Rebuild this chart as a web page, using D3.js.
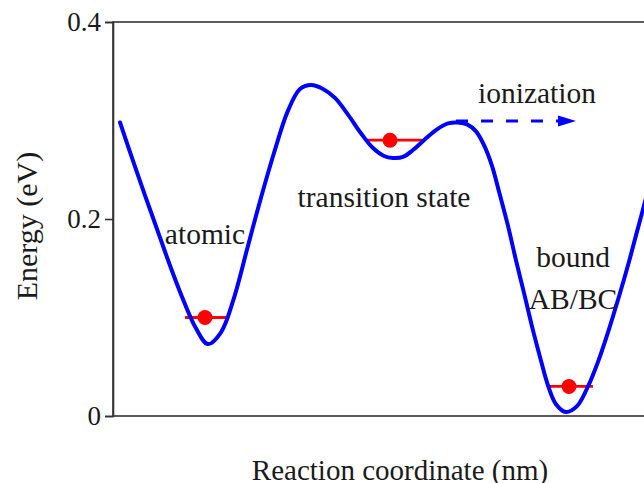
<!DOCTYPE html>
<html>
<head>
<meta charset="utf-8">
<script src="https://cdn.jsdelivr.net/npm/d3@7"></script>
<style>
  html, body { margin: 0; padding: 0; background: #fff; }
  svg { display: block; }
  text { font-family: "Liberation Serif", "DejaVu Serif", serif; fill: #1a1a1a; }
</style>
</head>
<body>
<svg id="chart" width="644" height="483"></svg>
<script>
// Potential energy profile along the reaction coordinate
const coord  = [0.07, 0.19, 0.32, 0.45, 0.58, 0.71, 0.83, 0.95, 1.08, 1.21, 1.34, 1.47, 1.61, 1.75, 1.87, 1.98,
                2.10, 2.22, 2.35, 2.48, 2.60, 2.71, 2.80, 2.90, 3.00, 3.12, 3.24, 3.35, 3.44, 3.54, 3.63, 3.71,
                3.79, 3.87, 3.95, 4.03, 4.11, 4.19, 4.27, 4.35, 4.43, 4.53, 4.64, 4.75, 4.85, 4.95, 5.05, 5.15,
                5.25, 5.35, 5.45];
const energy = [0.298, 0.262, 0.224, 0.187, 0.150, 0.116, 0.089, 0.073, 0.085, 0.120, 0.169, 0.218, 0.267, 0.310, 0.332, 0.336,
                0.332, 0.323, 0.306, 0.287, 0.272, 0.264, 0.262, 0.263, 0.270, 0.281, 0.291, 0.297, 0.298, 0.296, 0.289, 0.275,
                0.254, 0.224, 0.193, 0.158, 0.125, 0.091, 0.060, 0.031, 0.012, 0.004, 0.010, 0.030, 0.055, 0.085, 0.118, 0.153,
                0.191, 0.229, 0.270];

// Occupied levels: extent and marker position
const levelStart  = [0.72, 2.53, 4.34];
const levelEnd    = [1.16, 3.09, 4.80];
const levelCoord  = [0.92, 2.77, 4.56];
const levelEnergy = [0.10, 0.28, 0.03];

// Ionization arrow
const arrowFrom = 3.43, arrowTo = 4.63, arrowEnergy = 0.2995;

const yTicks = [0, 0.2, 0.4];
const yTickLabels = ["0", "0.2", "0.4"];

const regionLabels = [
  { text: "atomic",           x: 0.92, e: 0.175 },
  { text: "transition state", x: 2.71, e: 0.212 },
  { text: "ionization",       x: 4.24, e: 0.318 },
  { text: "bound",            x: 4.60, e: 0.151 },
  { text: "AB/BC",            x: 4.60, e: 0.109 }
];

const svg = d3.select("#chart");
const x = d3.scaleLinear().domain([0, 5.5]).range([113, 663]);
const y = d3.scaleLinear().domain([0, 0.4]).range([416, 22]);

// Frame
svg.append("rect")
  .attr("x", x(0)).attr("y", y(0.4))
  .attr("width", x(5.5) - x(0)).attr("height", y(0) - y(0.4))
  .attr("fill", "none").attr("stroke", "#333").attr("stroke-width", 1.6);

// Y axis
const yAxis = svg.append("g")
  .attr("transform", `translate(${x(0)},0)`)
  .call(d3.axisLeft(y).tickValues(yTicks).tickFormat((d, i) => yTickLabels[i]).tickSize(8).tickPadding(4));
yAxis.select(".domain").attr("stroke", "#333").attr("stroke-width", 1.6);
yAxis.selectAll(".tick line").attr("stroke", "#333").attr("stroke-width", 1.6);
yAxis.selectAll(".tick text")
  .attr("font-family", "Liberation Serif, serif")
  .attr("font-size", 27).attr("fill", "#1a1a1a");

// Axis titles
svg.append("text")
  .attr("transform", `translate(37,${(y(0) + y(0.4)) / 2 + 7}) rotate(-90)`)
  .attr("text-anchor", "middle").attr("font-size", 30)
  .text("Energy (eV)");
svg.append("text")
  .attr("x", 400).attr("y", 480)
  .attr("text-anchor", "middle").attr("font-size", 29)
  .text("Reaction coordinate (nm)");

// Levels
const levels = d3.range(levelCoord.length);
svg.selectAll(".level").data(levels).enter().append("line")
  .attr("x1", i => x(levelStart[i])).attr("x2", i => x(levelEnd[i]))
  .attr("y1", i => y(levelEnergy[i])).attr("y2", i => y(levelEnergy[i]))
  .attr("stroke", "#ff0000").attr("stroke-width", 2.8);

// Potential curve
const line = d3.line()
  .x((d, i) => x(coord[i])).y((d, i) => y(energy[i]))
  .curve(d3.curveCatmullRom.alpha(0.5));
svg.append("path")
  .attr("d", line(coord))
  .attr("fill", "none").attr("stroke", "#0000ff").attr("stroke-width", 4)
  .attr("stroke-linejoin", "round").attr("stroke-linecap", "round");

// Level markers
svg.selectAll(".dot").data(levels).enter().append("circle")
  .attr("cx", i => x(levelCoord[i])).attr("cy", i => y(levelEnergy[i]))
  .attr("r", 7.5).attr("fill", "#ff0000");

// Ionization arrow
const ay = y(arrowEnergy);
svg.append("line")
  .attr("x1", x(arrowFrom)).attr("x2", x(arrowTo) - 16)
  .attr("y1", ay).attr("y2", ay)
  .attr("stroke", "#0000ff").attr("stroke-width", 3)
  .attr("stroke-dasharray", "12,13");
svg.append("path")
  .attr("d", `M${x(arrowTo)},${ay} L${x(arrowTo) - 18},${ay - 5.5} L${x(arrowTo) - 18},${ay + 5.5} Z`)
  .attr("fill", "#0000ff");

// Region labels
svg.selectAll(".region").data(regionLabels).enter().append("text")
  .attr("x", d => x(d.x)).attr("y", d => y(d.e))
  .attr("text-anchor", "middle").attr("font-size", 29.5)
  .text(d => d.text);
</script>
</body>
</html>
